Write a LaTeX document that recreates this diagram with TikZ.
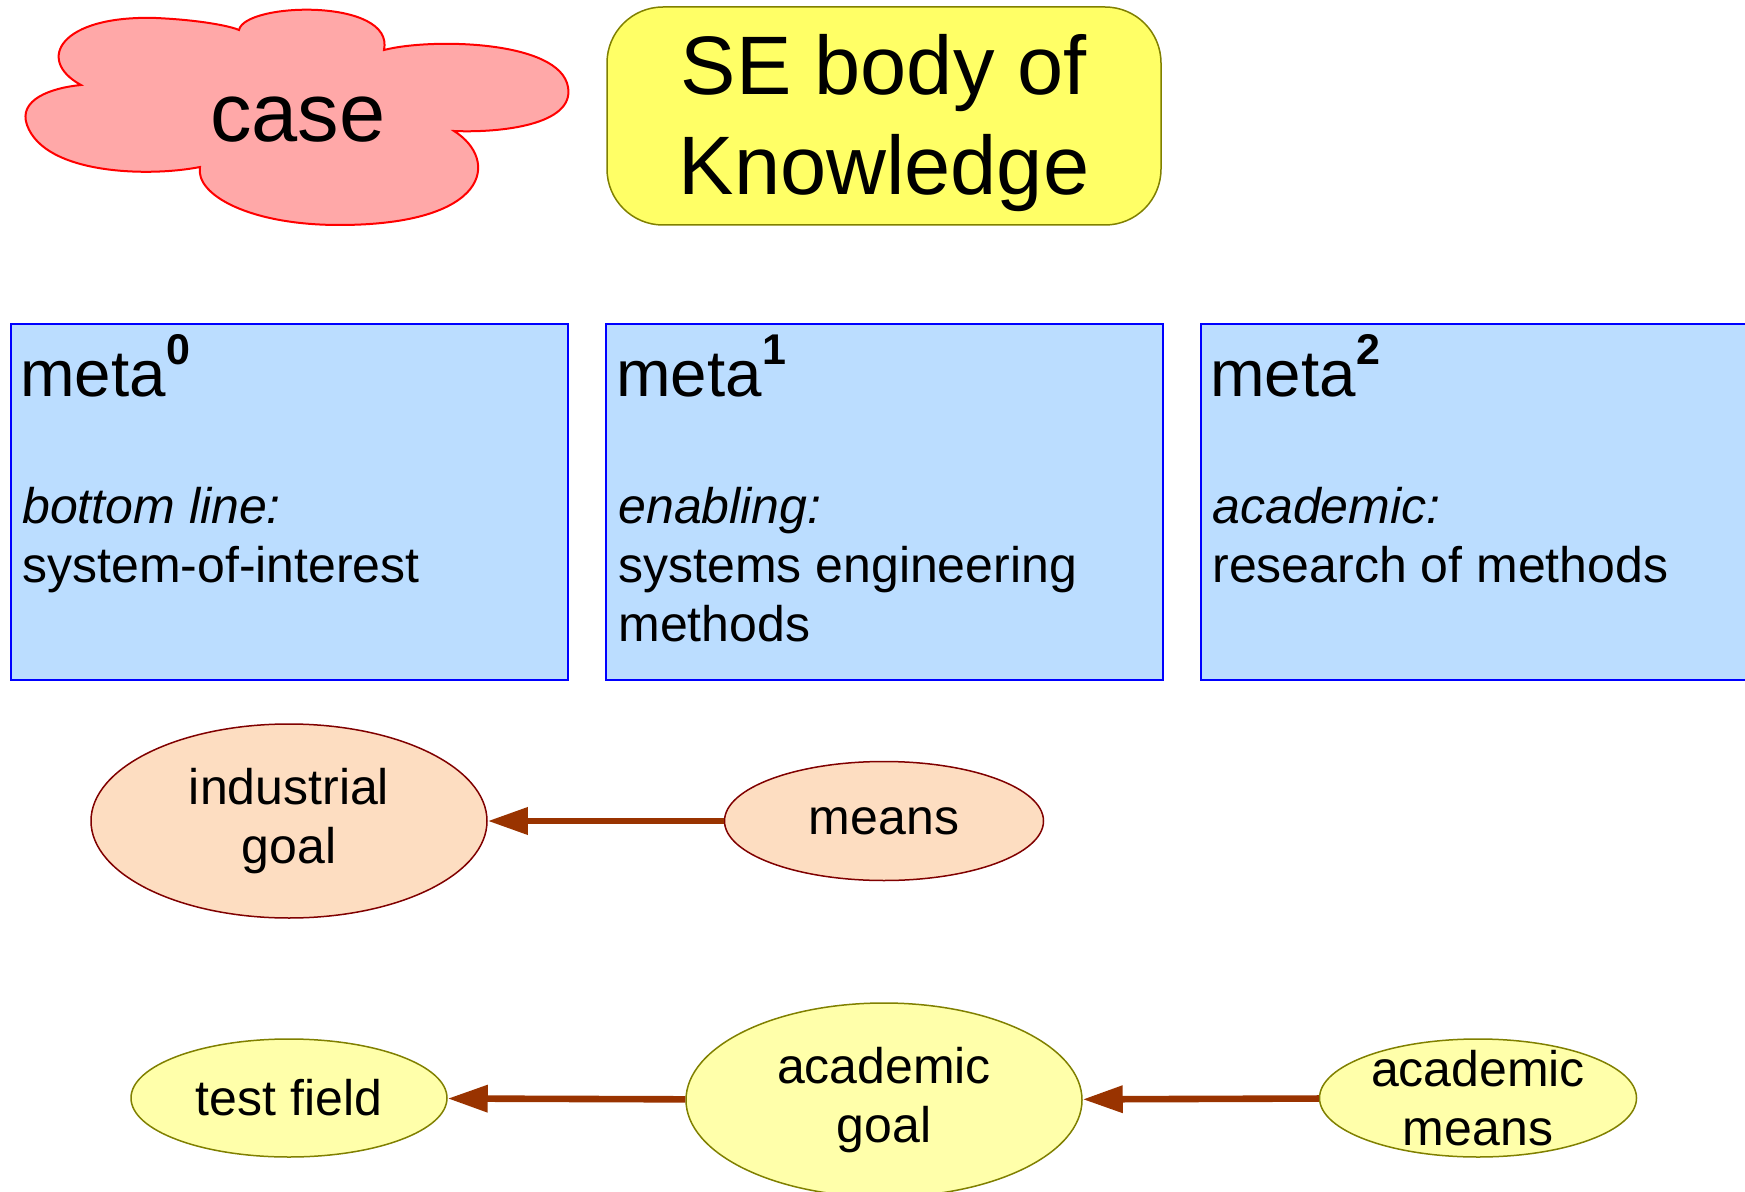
\documentclass[tikz,border=0pt]{standalone}
\usepackage{fontspec}
\setmainfont{Liberation Sans}
\usetikzlibrary{arrows.meta}
\usetikzlibrary{shapes.geometric}

\definecolor{cloudred}{RGB}{255,168,168}
\definecolor{bokyellow}{RGB}{255,255,102}
\definecolor{oliveedge}{RGB}{128,128,0}
\definecolor{metablue}{RGB}{187,221,255}
\definecolor{peach}{RGB}{253,221,193}
\definecolor{darkred}{RGB}{128,0,0}
\definecolor{paleyellow}{RGB}{255,255,170}
\definecolor{arrowbrown}{RGB}{153,51,0}

\newcommand{\metalevel}[1]{\raisebox{16pt}{\fontsize{21.5}{26}\selectfont\bfseries #1}}
\newcommand{\toplines}[1]{\begin{tabular}[t]{@{}l@{}}#1\end{tabular}}

\begin{document}
\begin{tikzpicture}[x=0.5pt,y=-0.5pt,
    bigtext/.style={font=\fontsize{41.5}{50}\selectfont},
    headtext/.style={font=\fontsize{32.75}{40}\selectfont, inner sep=0pt},
    bodytext/.style={font=\fontsize{25}{29.5}\selectfont, inner sep=0pt},
    metabox/.style={draw=blue, fill=metablue, line width=1pt,
      minimum width=278.5pt, minimum height=178pt},
    goalpeach/.style={ellipse, draw=darkred, fill=peach, line width=0.75pt, inner sep=0pt,
      font=\fontsize{25}{29.5}\selectfont, align=center},
    goalyellow/.style={ellipse, draw=oliveedge, fill=paleyellow, line width=0.75pt, inner sep=0pt,
      font=\fontsize{25}{29.5}\selectfont, align=center},
    flowarrow/.style={draw=arrowbrown, line width=3.3pt,
      -{Triangle[length=20pt,width=13pt]}}]

    % fix the page to the size of the picture
    \useasboundingbox (0,0) rectangle (1745,1192);

    % the case cloud
    \draw [fill=cloudred, draw=red, line width=1pt]
      (81,85) .. controls (35,60) and (60,15) .. (156,18)
      .. controls (200,20) and (230,26) .. (239,30)
      .. controls (245,2) and (395,-2) .. (384,50)
      .. controls (430,38) and (560,40) .. (568,87)
      .. controls (575,125) and (500,133) .. (454,131)
      .. controls (500,160) and (490,225) .. (339,225)
      .. controls (250,225) and (195,195) .. (200,167)
      .. controls (150,177) and (45,175) .. (27,125)
      .. controls (18,100) and (50,88) .. (81,85) -- cycle;
    \node [bigtext, anchor=base] (case) at (298,142) {case};

    % body of knowledge
    \node [draw=oliveedge, fill=bokyellow, line width=0.75pt, rounded corners=28pt,
      minimum width=277pt, minimum height=109pt] (sebok) at (884,116) {};
    \node [bigtext, inner sep=0pt, anchor=base] (sebtext) at (884,95)
      {\begin{tabular}[t]{@{}c@{}}SE body of\\Knowledge\end{tabular}};

    % the three meta levels
    \node [metabox] (meta0) at (289.5,502) {};
    \node [metabox] (meta1) at (884,502) {};
    \node [metabox] (meta2) at (1479.5,502) {};

    \node [headtext, anchor=base west] (head0) at (20,397) {meta\metalevel{0}};
    \node [headtext, anchor=base west] (head1) at (616,397) {meta\metalevel{1}};
    \node [headtext, anchor=base west] (head2) at (1210,397) {meta\metalevel{2}};

    \node [bodytext, anchor=base west] (body0) at (22,523) {\toplines{\textit{bottom line:}\\system-of-interest}};
    \node [bodytext, anchor=base west] (body1) at (618,523) {\toplines{\textit{enabling:}\\systems engineering\\methods}};
    \node [bodytext, anchor=base west] (body2) at (1212,523) {\toplines{\textit{academic:}\\research of methods}};

    % goals and means
    \node [goalpeach, minimum width=198pt, minimum height=97pt] (indgoal) at (289,821) {industrial\\goal};
    \node [goalpeach, minimum width=159.5pt, minimum height=59.5pt] (means) at (884,821) {means};
    \node [goalyellow, minimum width=158pt, minimum height=59pt] (testfield) at (289,1098) {test field};
    \node [goalyellow, minimum width=198pt, minimum height=97pt] (acgoal) at (884,1100) {academic\\goal};
    \node [goalyellow, minimum width=158.5pt, minimum height=59pt, inner ysep=-8pt] (acmeans) at (1478,1098) {academic\\means};

    \draw [flowarrow] (means) -- (indgoal);
    \draw [flowarrow] (acgoal) -- (testfield);
    \draw [flowarrow] (acmeans) -- (acgoal);

\end{tikzpicture}
\end{document}
